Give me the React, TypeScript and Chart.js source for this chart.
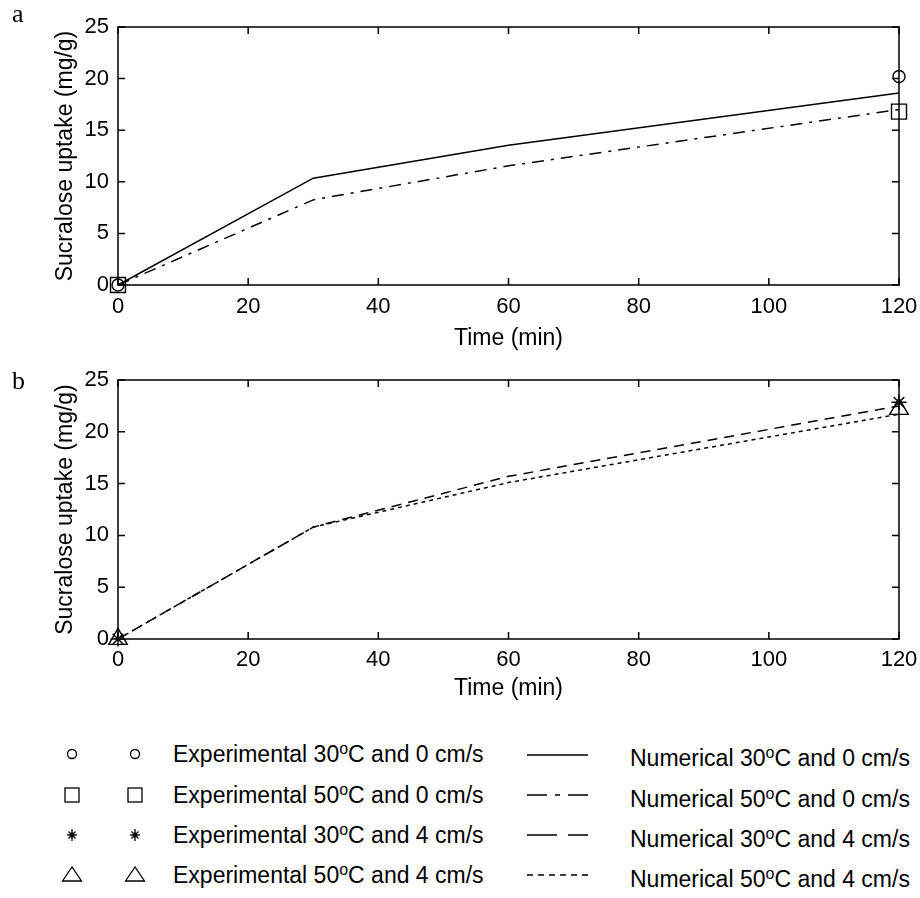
import React, { useEffect, useRef } from "react";
import { Chart, registerables } from "chart.js";
Chart.register(...registerables);

// ---------- data ----------
const timeRange = [0, 120];
const uptakeRange = [0, 25];
const expTime = [0, 120];
const numTime = [0, 30, 60, 120];

// panel a (0 cm/s)
const exp30_0 = [0, 20.2];
const exp50_0 = [0, 16.8];
const num30_0 = [0, 10.35, 13.55, 18.6];
const num50_0 = [0, 8.25, 11.55, 17.0];

// panel b (4 cm/s)
const exp30_4 = [0, 22.85];
const exp50_4 = [0, 22.2];
const num30_4 = [0, 10.8, 15.7, 22.5];
const num50_4 = [0, 10.8, 15.1, 21.7];

const xTitle = "Time (min)";
const yTitle = "Sucralose uptake (mg/g)";

const legendExp = [
  ["Experimental 30", "C and 0 cm/s"],
  ["Experimental 50", "C and 0 cm/s"],
  ["Experimental 30", "C and 4 cm/s"],
  ["Experimental 50", "C and 4 cm/s"],
];
const legendNum = [
  ["Numerical 30", "C and 0 cm/s"],
  ["Numerical 50", "C and 0 cm/s"],
  ["Numerical 30", "C and 4 cm/s"],
  ["Numerical 50", "C and 4 cm/s"],
];

const FONT = "'Liberation Sans', Arial, Helvetica, sans-serif";

const pts = (xs: number[], ys: number[]) => xs.map((x, i) => ({ x, y: ys[i] }));

const boxTicks = {
  id: "boxTicks",
  afterDatasetsDraw(chart: any) {
    const { ctx, chartArea: a, scales } = chart;
    const xs = scales.x;
    const ys = scales.y;
    const L = 7;
    ctx.save();
    ctx.strokeStyle = "#000";
    ctx.lineWidth = 1.5;
    ctx.beginPath();
    xs.ticks.forEach((t: any) => {
      const px = xs.getPixelForValue(t.value);
      ctx.moveTo(px, a.bottom);
      ctx.lineTo(px, a.bottom - L);
      ctx.moveTo(px, a.top);
      ctx.lineTo(px, a.top + L);
    });
    ys.ticks.forEach((t: any) => {
      const py = ys.getPixelForValue(t.value);
      ctx.moveTo(a.left, py);
      ctx.lineTo(a.left + L, py);
      ctx.moveTo(a.right, py);
      ctx.lineTo(a.right - L, py);
    });
    ctx.stroke();
    ctx.strokeRect(a.left, a.top, a.right - a.left, a.bottom - a.top);
    ctx.restore();
  },
};

type PanelProps = {
  height: number;
  padTop: number;
  xAxisH: number;
  tickPad: number;
  titlePadBottom: number;
  datasets: any[];
};

function Panel({ height, padTop, xAxisH, tickPad, titlePadBottom, datasets }: PanelProps) {
  const ref = useRef<HTMLCanvasElement | null>(null);
  useEffect(() => {
    if (!ref.current) return;
    const chart = new Chart(ref.current, {
      type: "scatter",
      data: { datasets },
      options: {
        animation: false,
        responsive: false,
        devicePixelRatio: 1,
        layout: { padding: { left: 0, right: 21, top: padTop, bottom: 0 } },
        plugins: { legend: { display: false }, tooltip: { enabled: false } },
        scales: {
          x: {
            type: "linear",
            min: timeRange[0],
            max: timeRange[1],
            grid: { display: false, drawTicks: false },
            border: { display: false },
            ticks: {
              stepSize: 20,
              color: "#000",
              padding: tickPad,
              maxRotation: 0,
              font: { family: FONT, size: 22, lineHeight: 1.2 },
            },
            title: {
              display: true,
              text: xTitle,
              color: "#000",
              font: { family: FONT, size: 23, lineHeight: 1.2 },
              padding: { top: 0, bottom: titlePadBottom },
            },
            afterFit: (s: any) => {
              s.height = xAxisH;
              s.paddingLeft = 0;
              s.paddingRight = 0;
            },
          },
          y: {
            type: "linear",
            min: uptakeRange[0],
            max: uptakeRange[1],
            grid: { display: false, drawTicks: false },
            border: { display: false },
            ticks: {
              stepSize: 5,
              color: "#000",
              padding: 9,
              font: { family: FONT, size: 22, lineHeight: 1.2 },
            },
            title: {
              display: true,
              text: yTitle,
              color: "#000",
              font: { family: FONT, size: 23, lineHeight: 1.2 },
              padding: { top: 52, bottom: 0 },
            },
            afterFit: (s: any) => {
              s.width = 118;
              s.paddingTop = 0;
              s.paddingBottom = 0;
            },
          },
        },
      },
      plugins: [boxTicks],
    } as any);
    return () => chart.destroy();
  }, []);
  return <canvas ref={ref} width={920} height={height} style={{ display: "block" }} />;
}

const lineDs = (xs: number[], ys: number[], dash: number[]) => ({
  data: pts(xs, ys),
  showLine: true,
  borderColor: "#000",
  backgroundColor: "#000",
  borderWidth: 1.5,
  borderDash: dash,
  pointRadius: 0,
  tension: 0,
  clip: false,
});

const markDs = (xs: number[], ys: number[], style: string, r: number) => ({
  data: pts(xs, ys),
  showLine: false,
  pointStyle: style,
  pointRadius: r,
  pointBorderColor: "#000",
  pointBackgroundColor: "rgba(0,0,0,0)",
  pointBorderWidth: 1.4,
  borderColor: "#000",
  backgroundColor: "rgba(0,0,0,0)",
  clip: false,
});

const datasetsA = [
  lineDs(numTime, num30_0, []),
  lineDs(numTime, num50_0, [12, 7, 3, 7]),
  markDs(expTime, exp30_0, "circle", 6),
  markDs(expTime, exp50_0, "rect", 10.6),
];
const datasetsB = [
  lineDs(numTime, num30_4, [10, 7]),
  lineDs(numTime, num50_4, [4, 4]),
  markDs(expTime, exp30_4, "star", 7.5),
  markDs(expTime, exp50_4, "triangle", 10.7),
];

function Marker({ kind }: { kind: number }) {
  const s = 22;
  const c = s / 2;
  let el: any = null;
  if (kind === 0) el = <circle cx={c} cy={c} r={4.5} fill="none" stroke="#000" strokeWidth={1.3} />;
  if (kind === 1) el = <rect x={c - 7} y={c - 7} width={14} height={14} fill="none" stroke="#000" strokeWidth={1.3} />;
  if (kind === 2)
    el = (
      <g stroke="#000" strokeWidth={1.3}>
        <line x1={c} y1={c - 6} x2={c} y2={c + 6} />
        <line x1={c - 5} y1={c} x2={c + 5} y2={c} />
        <line x1={c - 3.5} y1={c - 3.5} x2={c + 3.5} y2={c + 3.5} />
        <line x1={c - 3.5} y1={c + 3.5} x2={c + 3.5} y2={c - 3.5} />
        <circle cx={c} cy={c} r={1.8} fill="#000" />
      </g>
    );
  if (kind === 3)
    el = (
      <polygon
        points={`${c},${c - 8} ${c - 9.5},${c + 6} ${c + 9.5},${c + 6}`}
        fill="none"
        stroke="#000"
        strokeWidth={1.3}
      />
    );
  return (
    <svg width={s} height={s} style={{ display: "block" }}>
      {el}
    </svg>
  );
}

const sampleDash = ["", "20 8 5 8 20", "30 11 20", "6 5"];

function LegendText({ parts, top, left }: { parts: string[]; top: number; left: number }) {
  return (
    <div
      style={{
        position: "absolute",
        left,
        top: top - 14,
        height: 28,
        lineHeight: "28px",
        fontFamily: FONT,
        fontSize: 23,
        color: "#000",
        whiteSpace: "nowrap",
      }}
    >
      {parts[0]}
      <span style={{ fontSize: 16, position: "relative", top: -8 }}>o</span>
      {parts[1]}
    </div>
  );
}

export default function App() {
  const rows = [754, 795, 835, 875];
  return (
    <div
      style={{
        position: "absolute",
        left: 0,
        top: 0,
        width: 920,
        height: 898,
        background: "#fff",
        overflow: "hidden",
      }}
    >
      <div style={{ position: "absolute", left: 0, top: 0 }}>
        <Panel height={352} padTop={27} xAxisH={67} tickPad={9} titlePadBottom={0} datasets={datasetsA} />
      </div>
      <div style={{ position: "absolute", left: 0, top: 352 }}>
        <Panel height={351} padTop={28} xAxisH={64} tickPad={8} titlePadBottom={1} datasets={datasetsB} />
      </div>
      <div
        style={{
          position: "absolute",
          left: 12,
          top: 1,
          fontFamily: "'Liberation Serif', 'DejaVu Serif', serif",
          fontSize: 26,
          lineHeight: "26px",
        }}
      >
        a
      </div>
      <div
        style={{
          position: "absolute",
          left: 12,
          top: 368,
          fontFamily: "'Liberation Serif', 'DejaVu Serif', serif",
          fontSize: 26,
          lineHeight: "26px",
        }}
      >
        b
      </div>
      {rows.map((cy, i) => (
        <React.Fragment key={i}>
          <div style={{ position: "absolute", left: 72 - 11, top: cy - 11 }}>
            <Marker kind={i} />
          </div>
          <div style={{ position: "absolute", left: 135 - 11, top: cy - 11 }}>
            <Marker kind={i} />
          </div>
          <LegendText parts={legendExp[i]} top={cy} left={173} />
          <svg
            width={62}
            height={10}
            style={{ position: "absolute", left: 527, top: cy - 5 + (i === 0 ? 1 : 0) }}
          >
            <line
              x1={0}
              x2={61}
              y1={5}
              y2={5}
              stroke="#000"
              strokeWidth={1.5}
              strokeDasharray={sampleDash[i] || undefined}
            />
          </svg>
          <LegendText parts={legendNum[i]} top={cy + 4} left={630} />
        </React.Fragment>
      ))}
    </div>
  );
}
